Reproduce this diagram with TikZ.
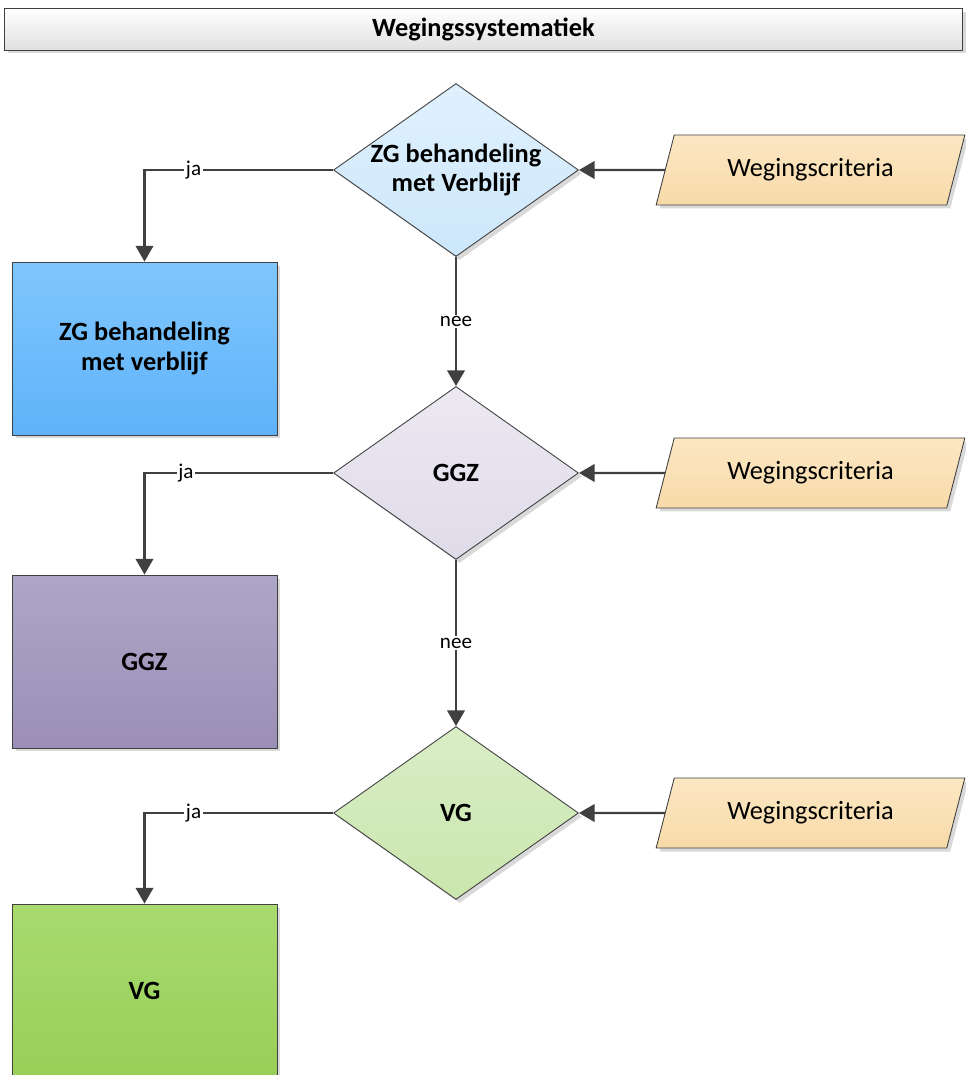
\documentclass[tikz,border=0pt]{standalone}
\usepackage{fontspec}
\setmainfont{Carlito}
\usetikzlibrary{shapes.geometric,arrows.meta,shadows}

\definecolor{linegray}{HTML}{404040}

\begin{document}
\begin{tikzpicture}[x=0.02cm,y=-0.02cm,
        every node/.style={font=\fontsize{15}{17}\selectfont},
        shade/.style={drop shadow={shadow xshift=0.07cm,shadow yshift=-0.07cm,fill=black!15,opacity=1}},
        head/.style={draw=linegray,line width=0.5pt,minimum width=19.18cm,minimum height=0.84cm,
            top color=white,bottom color=black!12,font=\fontsize{15}{17}\selectfont\bfseries,shade},
        result/.style={draw=linegray,line width=0.5pt,minimum width=5.3cm,minimum height=3.46cm,
            align=center,font=\fontsize{15}{17}\selectfont\bfseries,shade},
        choice/.style={diamond,draw=linegray,line width=0.5pt,minimum width=4.9cm,minimum height=3.46cm,
            inner sep=0pt,shade},
        crit/.style={trapezium,trapezium left angle=64,trapezium right angle=116,trapezium stretches=true,
            draw=linegray,line width=0.5pt,minimum width=6.18cm,minimum height=1.4cm,inner sep=0pt,
            top color={rgb,255:red,252;green,231;blue,196},bottom color={rgb,255:red,247;green,218;blue,168},shade},
        lbl/.style={fill=white,inner sep=1pt,font=\fontsize{12}{14}\selectfont},
        arr/.style={draw=linegray,line width=1.4pt,-{Triangle[length=9pt,width=10pt]}}]
    \useasboundingbox (0,0) rectangle (965,1075);
    % title bar
    \node[head] (title) at (483.5,29) {Wegingssystematiek};
    % decisions
    \node[choice,top color={rgb,255:red,224;green,241;blue,253},bottom color={rgb,255:red,204;green,231;blue,251},
        label={[font=\fontsize{15}{17}\selectfont\bfseries,align=center]center:{ZG behandeling\\met Verblijf}}] (zg) at (456,170) {};
    \node[choice,top color={rgb,255:red,236;green,233;blue,242},bottom color={rgb,255:red,223;green,219;blue,233},
        label={[font=\fontsize{15}{17}\selectfont\bfseries]center:GGZ}] (ggz) at (456,473) {};
    \node[choice,top color={rgb,255:red,217;green,237;blue,197},bottom color={rgb,255:red,203;green,230;blue,174},
        label={[font=\fontsize{15}{17}\selectfont\bfseries]center:VG}] (vg) at (456,813) {};
    % criteria
    \node[crit] (critzg) at (810.5,170) {Wegingscriteria};
    \node[crit] (critggz) at (810.5,473) {Wegingscriteria};
    \node[crit] (critvg) at (810.5,813) {Wegingscriteria};
    % results
    \node[result,top color={rgb,255:red,128;green,198;blue,253},bottom color={rgb,255:red,95;green,179;blue,250}] (boxzg) at (144.5,348.5) {ZG behandeling\\met verblijf};
    \node[result,top color={rgb,255:red,174;green,166;blue,198},bottom color={rgb,255:red,155;green,143;blue,183}] (boxggz) at (144.5,661.5) {GGZ};
    \node[result,top color={rgb,255:red,168;green,218;blue,110},bottom color={rgb,255:red,152;green,207;blue,88}] (boxvg) at (144.5,990.5) {VG};
    % connectors
    \draw[arr] (critzg) -- (zg);
    \draw[arr] (critggz) -- (ggz);
    \draw[arr] (critvg) -- (vg);
    \draw[arr] (zg.west) -| node[lbl,pos=0.37]{ja} (boxzg.north);
    \draw[arr] (ggz.west) -| node[lbl,pos=0.39]{ja} (boxggz.north);
    \draw[arr] (vg.west) -| node[lbl,pos=0.37]{ja} (boxvg.north);
    \draw[arr] (zg.south) -- node[lbl]{nee} (ggz.north);
    \draw[arr] (ggz.south) -- node[lbl]{nee} (vg.north);
\end{tikzpicture}
\end{document}
